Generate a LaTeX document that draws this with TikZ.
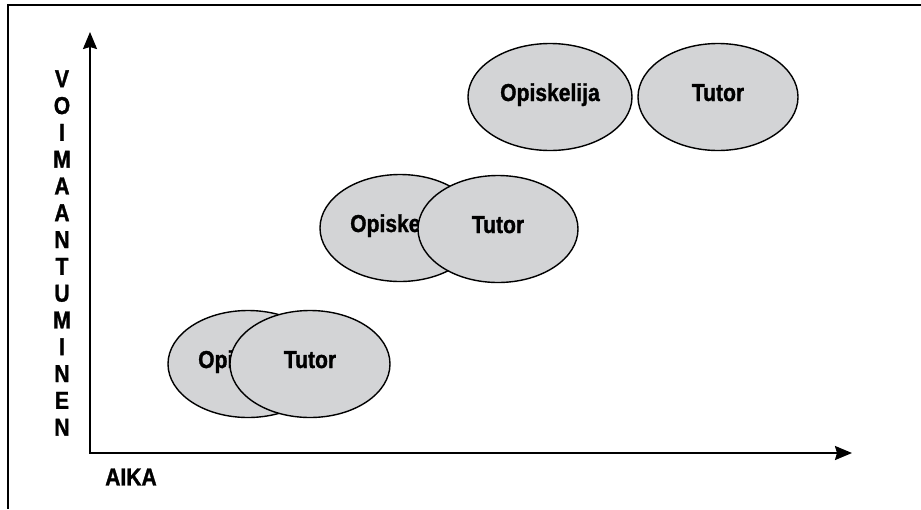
\documentclass[tikz,border=0pt]{standalone}
\usepackage{fontspec}
\setmainfont{Liberation Sans}[FakeStretch=0.86, BoldFeatures={FakeBold=1.2}]
\usetikzlibrary{shapes.geometric,arrows.meta}
\definecolor{ovalgray}{RGB}{211,212,214}
\begin{document}
\begin{tikzpicture}[x=1pt,y=-1pt]
	\tikzstyle{every node}+=[inner sep=0pt, font=\bfseries\fontsize{24.5}{26.8}\selectfont]
	\tikzstyle{oval}=[draw=black, fill=ovalgray, line width=1.4pt, ellipse, minimum width=160pt, minimum height=107pt, text height=18pt, text depth=10pt]
	\tikzstyle{axis}=[line width=2pt, {Stealth[length=17pt,width=14pt,inset=2pt]}-{Stealth[length=17pt,width=14pt,inset=2pt]}]
	\useasboundingbox (0,0) rectangle (921,509);
	% frame
	\draw [line width=2.2pt] (921,5) -- (8,5) -- (8,509);
	% axes
	\coordinate (ytip) at (90,32);
	\coordinate (origin) at (90,453);
	\coordinate (xtip) at (852,453);
	\draw [axis] (ytip) -- (origin) -- (xtip);
	\node (ylabel) [align=center] at (62,253) {V\\O\\I\\M\\A\\A\\N\\T\\U\\M\\I\\N\\E\\N};
	\node (xlabel) at (131,477) {AIKA};
	% ovals, bottom to top
	\node (opi1) [oval] at (248,364) {Opiskelija};
	\node (tut1) [oval] at (310,364) {Tutor};
	\node (opi2) [oval] at (400,228) {Opiskelija};
	\node (tut2) [oval] at (498,229) {Tutor};
	\node (opi3) [oval, minimum width=164pt] at (550,97) {Opiskelija};
	\node (tut3) [oval] at (718,97) {Tutor};
\end{tikzpicture}
\end{document}
